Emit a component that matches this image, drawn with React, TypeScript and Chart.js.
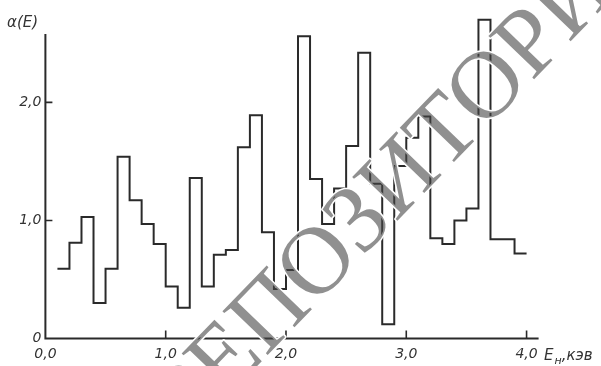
import React, { useEffect, useRef } from "react";
import { Chart, registerables } from "chart.js";

Chart.register(...registerables);

// Bin left edges (keV) and step heights α(E)
const binEdges = [
  0.1, 0.2, 0.3, 0.4, 0.5, 0.6, 0.7, 0.8, 0.9, 1.0,
  1.1, 1.2, 1.3, 1.4, 1.5, 1.6, 1.7, 1.8, 1.9, 2.0,
  2.1, 2.2, 2.3, 2.4, 2.5, 2.6, 2.7, 2.8, 2.9, 3.0,
  3.1, 3.2, 3.3, 3.4, 3.5, 3.6, 3.7, 3.8, 3.9, 4.0,
];
const alphaValues = [
  0.59, 0.81, 1.03, 0.30, 0.59, 1.54, 1.17, 0.97, 0.80, 0.44,
  0.26, 1.36, 0.44, 0.71, 0.75, 1.62, 1.89, 0.90, 0.42, 0.58,
  2.56, 1.35, 0.97, 1.27, 1.63, 2.42, 1.31, 0.12, 1.46, 1.70,
  1.88, 0.85, 0.80, 1.00, 1.10, 2.70, 0.84, 0.84, 0.72,
];

const xTickValues = [0, 1, 2, 3, 4];
const xTickLabels = ["0,0", "1,0", "2,0", "3,0", "4,0"];
const yTickValues = [0, 1, 2];
const yTickLabels = ["0", "1,0", "2,0"];

const X_MAX = 4.1;
const Y_MAX = 2.85;
const Y_AXIS_TOP = 2.58;

const INK = "#2a2a2a";
const LABEL_FONT = { family: "'DejaVu Sans', sans-serif", size: 14, style: "italic" as const };

const axesPlugin = {
  id: "bookAxes",
  afterDatasetsDraw(chart: any) {
    const { ctx, scales } = chart;
    const xs = scales.x;
    const ys = scales.y;
    const x0 = xs.getPixelForValue(0);
    const y0 = ys.getPixelForValue(0);
    ctx.save();
    ctx.strokeStyle = INK;
    ctx.lineWidth = 2;
    ctx.lineCap = "butt";
    // axis lines
    ctx.beginPath();
    ctx.moveTo(x0, ys.getPixelForValue(Y_AXIS_TOP));
    ctx.lineTo(x0, y0);
    ctx.lineTo(xs.getPixelForValue(X_MAX), y0);
    ctx.stroke();
    // inward tick marks
    ctx.lineWidth = 1.6;
    ctx.beginPath();
    xTickValues.forEach((v) => {
      if (v === 0) return;
      const px = xs.getPixelForValue(v);
      ctx.moveTo(px, y0);
      ctx.lineTo(px, y0 - 8);
    });
    yTickValues.forEach((v) => {
      if (v === 0) return;
      const py = ys.getPixelForValue(v);
      ctx.moveTo(x0, py);
      ctx.lineTo(x0 + 7, py);
    });
    ctx.stroke();

    // axis titles
    ctx.fillStyle = "#333";
    ctx.textBaseline = "alphabetic";
    ctx.textAlign = "left";
    ctx.font = "italic 15px 'DejaVu Sans', sans-serif";
    ctx.fillText("α(E)", 7, 27);

    let tx = 544;
    const ty = 360;
    ctx.fillText("E", tx, ty);
    tx += ctx.measureText("E").width + 1;
    ctx.font = "italic 11px 'DejaVu Sans', sans-serif";
    ctx.fillText("н", tx, ty + 4);
    tx += ctx.measureText("н").width;
    ctx.font = "italic 15px 'DejaVu Sans', sans-serif";
    ctx.fillText(",кэв", tx, ty);
    ctx.restore();
  },
  afterDraw(chart: any) {
    const { ctx } = chart;
    ctx.save();
    ctx.font = "96px 'Liberation Serif', serif";
    const word = "РЕПОЗИТОРИЙ";
    const lead = ctx.measureText("РЕП").width;
    const oWidth = ctx.measureText("О").width;
    ctx.translate(315, 260);
    ctx.rotate((-46 * Math.PI) / 180);
    const bx = -(lead + oWidth / 2);
    const by = 32;
    ctx.lineJoin = "round";
    ctx.strokeStyle = "#ffffff";
    ctx.lineWidth = 3;
    ctx.strokeText(word, bx, by);
    ctx.fillStyle = "rgba(70,70,70,0.6)";
    ctx.fillText(word, bx, by);
    ctx.restore();
  },
};

export default function App() {
  const canvasRef = useRef<HTMLCanvasElement | null>(null);

  useEffect(() => {
    document.body.style.margin = "0";
    document.body.style.background = "#fff";
    const canvas = canvasRef.current;
    if (!canvas) return;

    // each point opens a bin; the last one closes the final bin
    const points = binEdges.map((e, i) => ({
      x: e,
      y: alphaValues[Math.min(i, alphaValues.length - 1)],
    }));

    const chart = new Chart(canvas, {
      type: "line",
      data: {
        datasets: [
          {
            data: points,
            stepped: "before",
            borderColor: INK,
            borderWidth: 2,
            pointRadius: 0,
            fill: false,
            borderJoinStyle: "miter",
          } as any,
        ],
      },
      options: {
        animation: false,
        responsive: false,
        devicePixelRatio: 1,
        layout: { padding: { top: 2, right: 601 - 538.6, left: 0, bottom: 0 } },
        plugins: { legend: { display: false }, tooltip: { enabled: false } },
        scales: {
          x: {
            type: "linear",
            min: 0,
            max: X_MAX,
            grid: { display: false, drawTicks: false },
            border: { display: false },
            afterBuildTicks: (s: any) => {
              s.ticks = xTickValues.map((v) => ({ value: v }));
            },
            afterFit: (s: any) => {
              s.height = 366 - 338.5;
              s.paddingLeft = 0;
              s.paddingRight = 0;
            },
            ticks: {
              autoSkip: false,
              maxRotation: 0,
              padding: 7,
              color: "#333",
              font: LABEL_FONT,
              callback: (v: any) => {
                const i = xTickValues.indexOf(Number(v));
                return i >= 0 ? xTickLabels[i] : "";
              },
            },
          },
          y: {
            type: "linear",
            min: 0,
            max: Y_MAX,
            grid: { display: false, drawTicks: false },
            border: { display: false },
            afterBuildTicks: (s: any) => {
              s.ticks = yTickValues.map((v) => ({ value: v }));
            },
            afterFit: (s: any) => {
              s.width = 45.4;
              s.paddingTop = 0;
              s.paddingBottom = 0;
            },
            ticks: {
              padding: 4,
              color: "#333",
              font: LABEL_FONT,
              callback: (v: any) => {
                const i = yTickValues.indexOf(Number(v));
                return i >= 0 ? yTickLabels[i] : "";
              },
            },
          },
        },
      },
      plugins: [axesPlugin],
    });

    return () => chart.destroy();
  }, []);

  return (
    <div style={{ width: 601, height: 366, background: "#fff" }}>
      <canvas ref={canvasRef} width={601} height={366} style={{ display: "block" }} />
    </div>
  );
}
